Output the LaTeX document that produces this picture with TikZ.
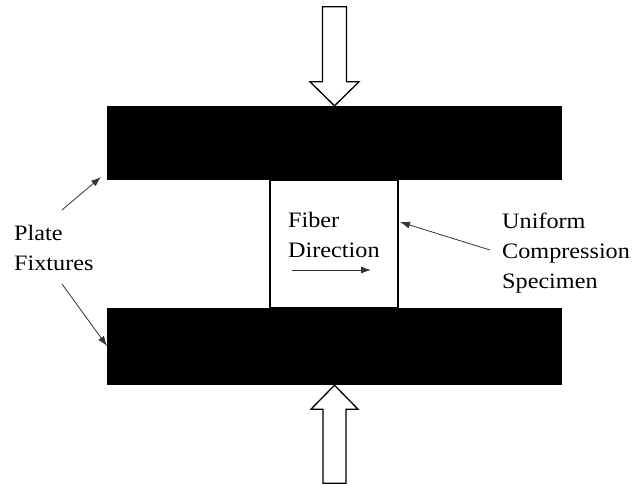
\documentclass[tikz,border=0pt]{standalone}
\usepackage{fontspec}
\setmainfont[FakeStretch=1.1]{Liberation Serif}
\usetikzlibrary{arrows.meta,positioning}
\tikzset{plate/.style = {draw=none, fill=black, minimum width=455pt, inner sep=0pt},
         specimen/.style = {draw, line width=1.3pt, minimum width=128pt, minimum height=128pt, inner sep=0pt},
         txt/.style = {font=\fontsize{22}{30}\selectfont, align=left, inner sep=0pt, anchor=base west},
         pointer/.style = {-{Latex[length=10pt,width=7pt]}, line width=0.8pt, draw=black!80},
         load/.style = {draw, line width=1.3pt, fill=white},
}
\begin{document}
\begin{tikzpicture}[x=1pt, y=-1pt]
  \useasboundingbox (0,0) rectangle (633,485);

  % fixtures and specimen
  \node[plate, minimum height=74pt] (top) at (334.5,143) {};
  \node[plate, minimum height=77pt] (bottom) at (334.5,346.5) {};
  \node[specimen] (spec) at (334,244) {};

  % compression loads
  \draw[load] (top.north) -- ++(-24.5,-24) -- ++(12.5,0) -- ++(0,-75) -- ++(24,0) -- ++(0,75) -- ++(12.5,0) -- cycle;
  \draw[load] (bottom.south) -- ++(-23.5,24) -- ++(12,0) -- ++(0,74) -- ++(23,0) -- ++(0,-74) -- ++(12,0) -- cycle;

  % labels (base = last line)
  \node[txt] (fiber) at (288,257) {Fiber\\Direction};
  \node[txt] (unif) at (502,288) {Uniform\\Compression\\Specimen};
  \node[txt] (plates) at (14,270) {Plate\\Fixtures};

  \coordinate (dirstart) at (292,270);
  \coordinate (dirend) at (371,270);
  \coordinate (unitail) at (490,250);
  \coordinate (unitip) at (400,222);
  \coordinate (uptail) at (62,210);
  \coordinate (uptip) at (101,177);
  \coordinate (lowtail) at (62,284);
  \coordinate (lowtip) at (107,346);

  \draw[pointer] (dirstart) -- (dirend);
  \draw[pointer] (unitail) -- (unitip);
  \draw[pointer] (uptail) -- (uptip);
  \draw[pointer] (lowtail) -- (lowtip);

\end{tikzpicture}
\end{document}
